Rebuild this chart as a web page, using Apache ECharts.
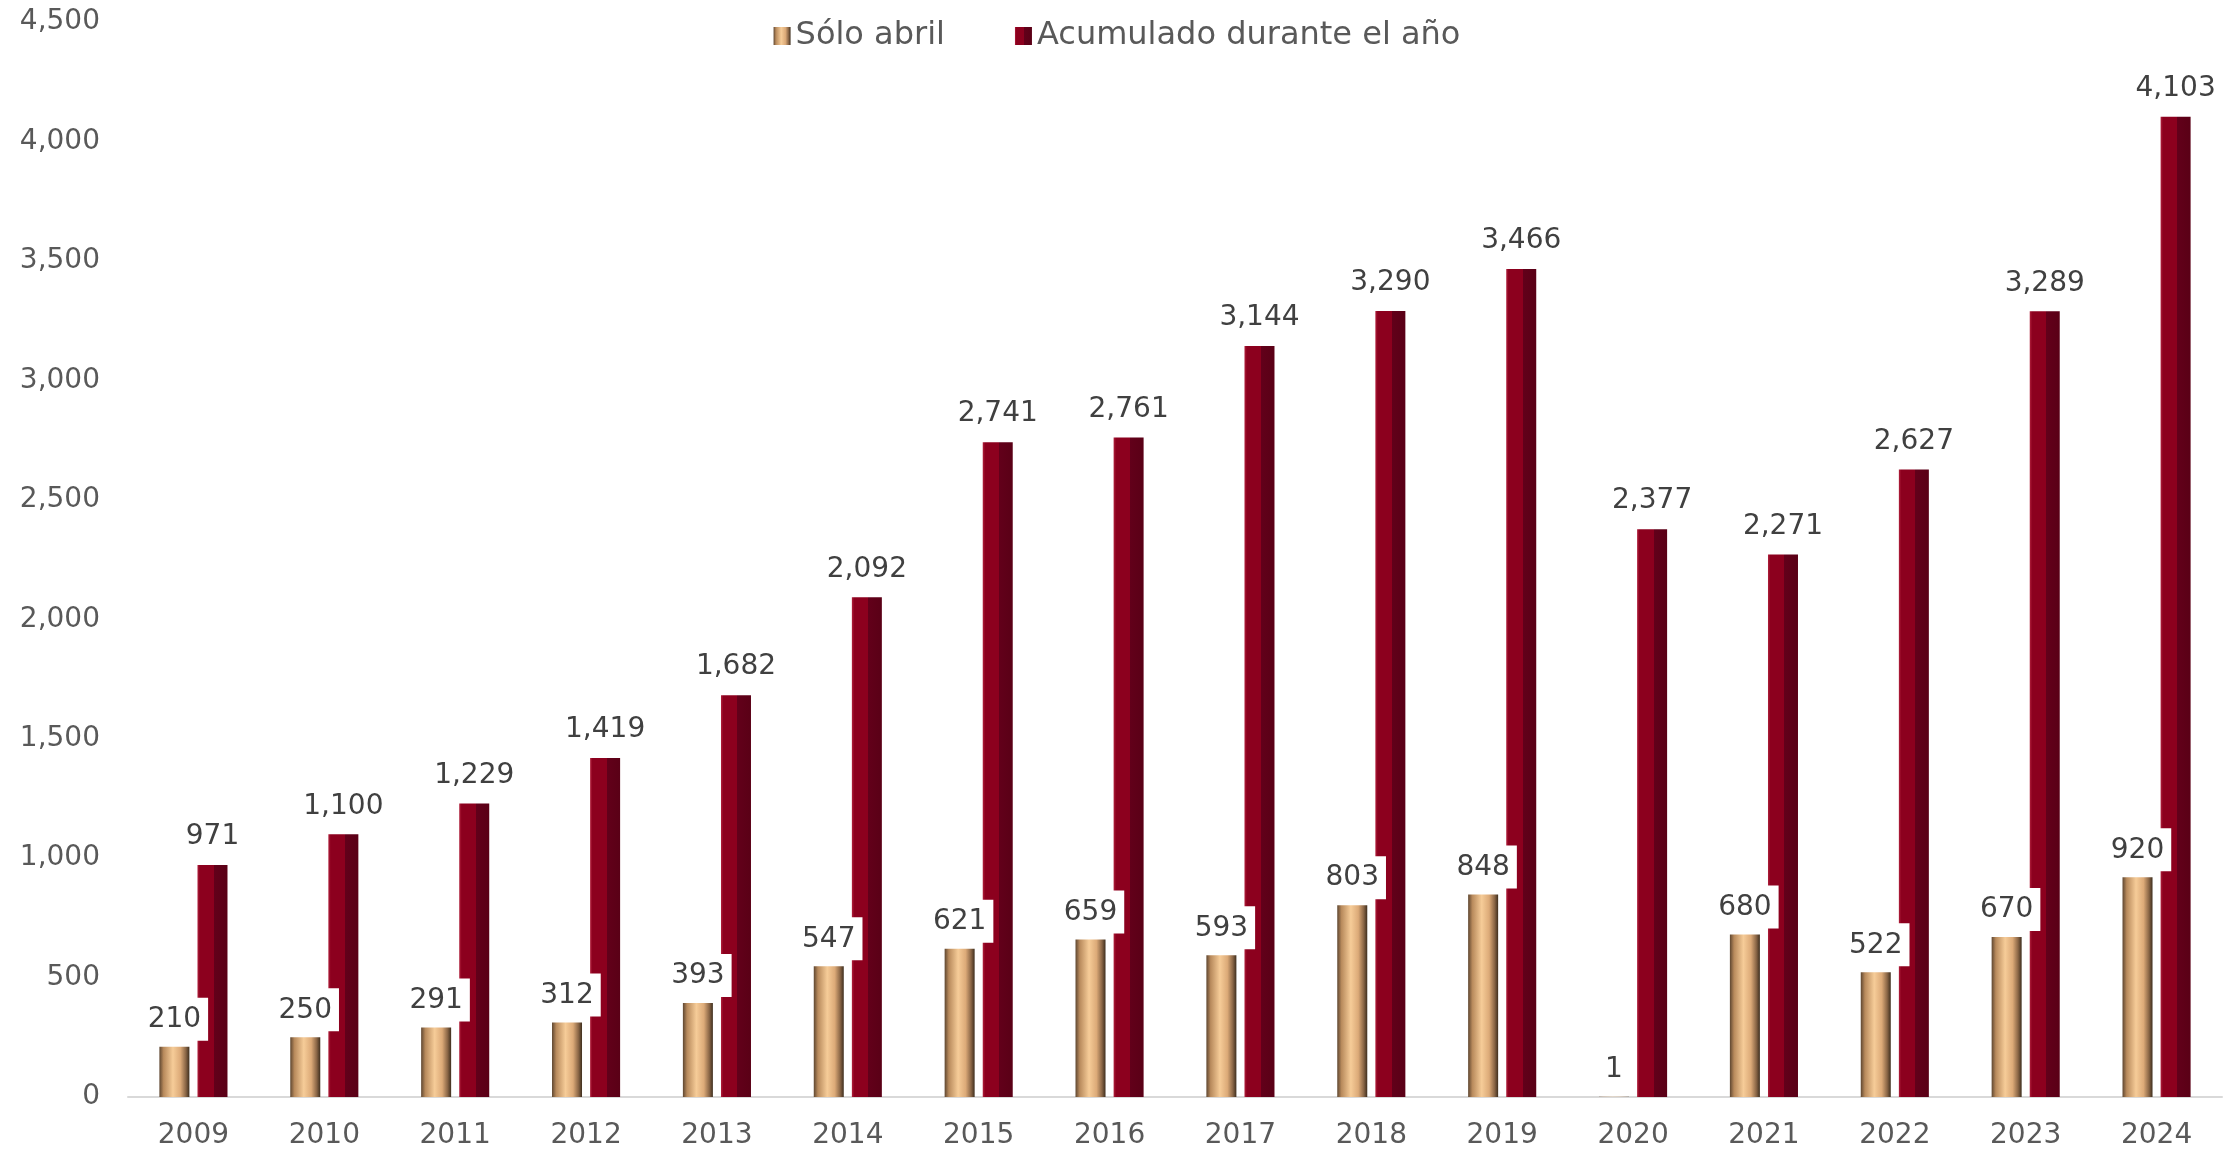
<!DOCTYPE html>
<html>
<head>
    <meta charset="UTF-8">
    <title>Sólo abril / Acumulado</title>
    <script src="https://cdn.jsdelivr.net/npm/echarts@6/dist/echarts.min.js"></script>
    <style>
        html, body { margin: 0; padding: 0; background: #fff; }
        #chart { width: 2234px; height: 1153px; }
    </style>
</head>
<body>
<div id="chart"></div>
<script>
    // datos
    var years = ['2009', '2010', '2011', '2012', '2013', '2014', '2015', '2016',
        '2017', '2018', '2019', '2020', '2021', '2022', '2023', '2024'];
    var soloAbril = [210, 250, 291, 312, 393, 547, 621, 659, 593, 803, 848, 1, 680, 522, 670, 920];
    var acumulado = [971, 1100, 1229, 1419, 1682, 2092, 2741, 2761, 3144, 3290, 3466, 2377, 2271, 2627, 3289, 4103];
    var seriesNames = ['Sólo abril', 'Acumulado durante el año'];

    var font = 'DejaVu Sans, Verdana, sans-serif';
    function fmt(v) { return Number(v).toLocaleString('en-US'); }

    // relleno "3d" aproximado con gradientes
    var tanFill = new echarts.graphic.LinearGradient(0, 0, 1, 0, [
        { offset: 0, color: '#5e4630' },
        { offset: 0.14, color: '#b88a5c' },
        { offset: 0.45, color: '#f6cc98' },
        { offset: 0.7, color: '#dcaa78' },
        { offset: 0.88, color: '#8a6646' },
        { offset: 1, color: '#3e2e1e' }
    ]);
    var redFill = new echarts.graphic.LinearGradient(0, 0, 1, 0, [
        { offset: 0, color: '#b0203c' },
        { offset: 0.08, color: '#8c001e' },
        { offset: 0.55, color: '#8c001e' },
        { offset: 0.55, color: '#62001a' },
        { offset: 1, color: '#5a0016' }
    ]);

    var myChart = echarts.init(document.getElementById('chart'));
    var option = {
        animation: false,
        textStyle: { fontFamily: font },
        legend: {
            data: seriesNames,
            top: 15,
            left: 'center',
            itemWidth: 17,
            itemHeight: 18,
            itemGap: 70,
            icon: 'rect',
            textStyle: { fontSize: 32, color: '#595959', fontFamily: font }
        },
        grid: { left: 128, right: 12, top: 22, bottom: 56, containLabel: false },
        xAxis: {
            type: 'category',
            data: years,
            axisLine: { lineStyle: { color: '#d9d9d9', width: 2 } },
            axisTick: { show: false },
            axisLabel: { color: '#595959', fontSize: 28, margin: 25, fontFamily: font }
        },
        yAxis: {
            type: 'value',
            min: 0,
            max: 4500,
            interval: 500,
            splitLine: { show: false },
            axisLine: { show: false },
            axisTick: { show: false },
            axisLabel: {
                color: '#595959', fontSize: 28, margin: 28, fontFamily: font,
                formatter: fmt
            }
        },
        series: [
            {
                name: seriesNames[0],
                type: 'bar',
                z: 3,
                data: soloAbril,
                barWidth: 30,
                barGap: '27%',
                itemStyle: { color: tanFill },
                label: {
                    show: true,
                    position: 'top',
                    distance: 6,
                    color: '#404040',
                    fontSize: 28,
                    fontFamily: font,
                    backgroundColor: '#ffffff',
                    padding: [8, 7, 7, 7],
                    formatter: function (p) { return fmt(p.value); }
                }
            },
            {
                name: seriesNames[1],
                type: 'bar',
                z: 2,
                data: acumulado,
                barWidth: 30,
                itemStyle: { color: redFill },
                label: {
                    show: true,
                    position: 'top',
                    distance: 14,
                    color: '#404040',
                    fontSize: 28,
                    fontFamily: font,
                    formatter: function (p) { return fmt(p.value); }
                }
            }
        ]
    };
    myChart.setOption(option);
</script>
</body>
</html>
